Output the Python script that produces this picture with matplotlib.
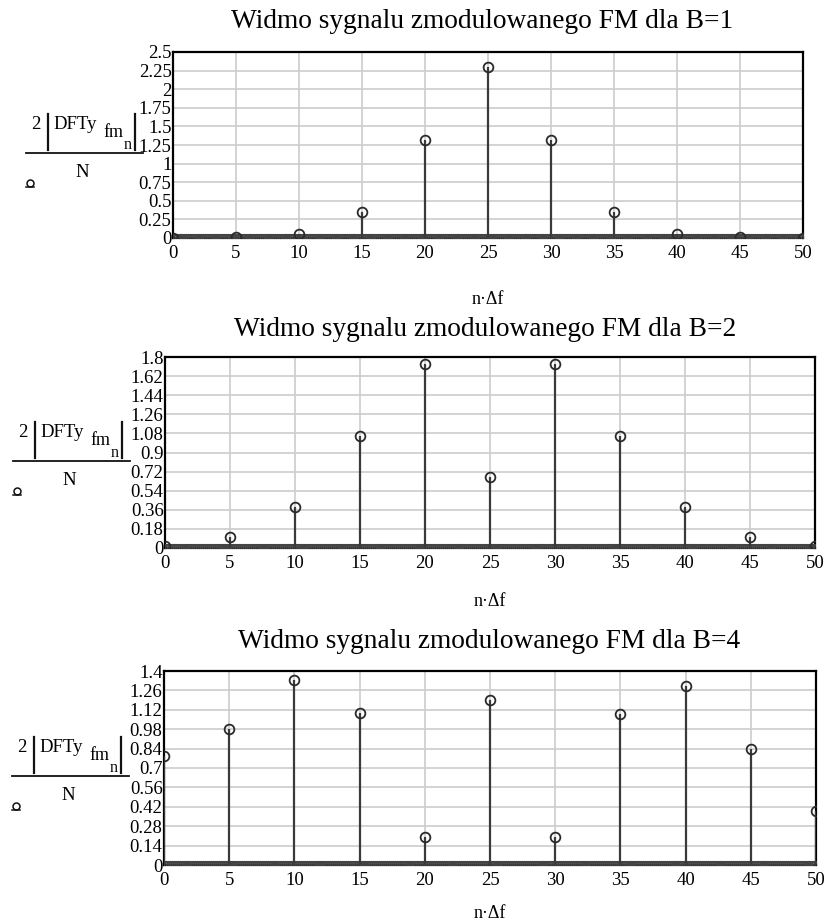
import numpy as np
import matplotlib
matplotlib.use("Agg")
import matplotlib.pyplot as plt
from matplotlib.lines import Line2D

plt.rcParams['font.family'] = ['Liberation Serif', 'DejaVu Serif']

W, H = 833, 923

# spectrum lines (n*df) and their amplitudes 2|DFT|/N
peak_f = [0, 5, 10, 15, 20, 25, 30, 35, 40, 45, 50]
amp_b1 = [0.0, 0.007, 0.059, 0.345, 1.32, 2.295, 1.32, 0.345, 0.059, 0.007, 0.0]
amp_b2 = [0.021, 0.102, 0.387, 1.058, 1.73, 0.672, 1.73, 1.058, 0.387, 0.102, 0.021]
amp_b4 = [0.79, 0.985, 1.333, 1.10, 0.20, 1.19, 0.20, 1.09, 1.29, 0.835, 0.39]

# the remaining DFT bins are all zero
bins_f = np.arange(0, 50.001, 0.15)
bins_a = np.zeros(len(bins_f))

titles = ["Widmo sygnalu zmodulowanego FM dla B=1",
          "Widmo sygnalu zmodulowanego FM dla B=2",
          "Widmo sygnalu zmodulowanego FM dla B=4"]
y_max = [2.5, 1.8, 1.4]
y_step = [0.25, 0.18, 0.14]
x_ticks = [0, 5, 10, 15, 20, 25, 30, 35, 40, 45, 50]

# pixel boxes of the three plots: left, top, right, bottom
boxes = [(173, 52, 803, 238), (165, 357, 815, 548), (164, 671, 816, 865)]
title_pos = [(482, 22), (485, 330), (489, 642)]
xlab_y = [299, 601, 913]
frac_pos = [(26, 153), (13, 461), (12, 776)]

fig = plt.figure(figsize=(W / 100, H / 100), dpi=100)


def px(x, y):
    return x / W, 1 - y / H


def ylabel(x0, y0):
    # Mathcad style expression 2|DFTy_fm_n| / N with the trace symbol below
    ink = '#111111'
    fig.text(*px(x0 + 5, y0 - 24), "2", fontsize=13.5, va='baseline', ha='left')
    fig.text(*px(x0 + 27, y0 - 24), "DFTy", fontsize=13.5, va='baseline', ha='left')
    fig.text(*px(x0 + 77, y0 - 16), "fm", fontsize=13, va='baseline', ha='left')
    fig.text(*px(x0 + 98, y0 - 4), "n", fontsize=11.5, va='baseline', ha='left')
    fig.text(*px(x0 + 56, y0 + 24), "N", fontsize=13.5, va='baseline', ha='center')
    for bx in (x0 + 22, x0 + 109):
        fig.add_artist(Line2D([bx / W] * 2, [1 - (y0 - 39) / H, 1 - (y0 - 3) / H],
                              color=ink, lw=1.6, transform=fig.transFigure))
    fig.add_artist(Line2D([x0 / W, (x0 + 117) / W], [1 - y0 / H] * 2,
                          color=ink, lw=1.3, transform=fig.transFigure))
    sx, sy = x0 + 4, y0 + 30
    fig.add_artist(Line2D([sx / W], [1 - sy / H], marker='o', ms=5, mfc='none',
                          mec=ink, mew=1.1, transform=fig.transFigure))
    fig.add_artist(Line2D([(sx - 4) / W, (sx + 4) / W], [1 - (sy + 4) / H] * 2,
                          color=ink, lw=1.1, transform=fig.transFigure))


for i, amps in enumerate([amp_b1, amp_b2, amp_b4]):
    l, t, r, b = boxes[i]
    ax = fig.add_axes([l / W, 1 - b / H, (r - l) / W, (b - t) / H])

    ax.plot(bins_f, bins_a, 'o', ms=5.5, mfc='none', mec='#444444', mew=1.1, zorder=3)
    ax.vlines(peak_f, 0, amps, color='#3a3a3a', lw=1.6, zorder=4)
    ax.plot(peak_f, amps, 'o', ms=7, mfc='none', mec='#2a2a2a', mew=1.3, zorder=5)

    ax.set_xlim(0, 50)
    ax.set_ylim(0, y_max[i])
    yt = np.round(np.arange(0, y_max[i] + 1e-9, y_step[i]), 2)
    ax.set_yticks(yt)
    ax.set_yticklabels(['%g' % v for v in yt])
    ax.set_xticks(x_ticks)
    ax.set_xticklabels([str(v) for v in x_ticks])
    ax.tick_params(length=0, labelsize=13.5)
    ax.tick_params(axis='y', pad=1)
    ax.tick_params(axis='x', pad=5)
    ax.grid(True, color='#cccccc', lw=1.2)
    ax.set_axisbelow(True)
    for s in ax.spines.values():
        s.set_linewidth(1.6)
        s.set_color('black')

    tx, ty = title_pos[i]
    fig.text(*px(tx, ty), titles[i], ha='center', va='center', fontsize=19.7)
    fig.text((l + r) / 2 / W, 1 - xlab_y[i] / H, "n·Δf", ha='center', va='center', fontsize=13)

    ylabel(*frac_pos[i])

fig.savefig("out.png", dpi=100)
